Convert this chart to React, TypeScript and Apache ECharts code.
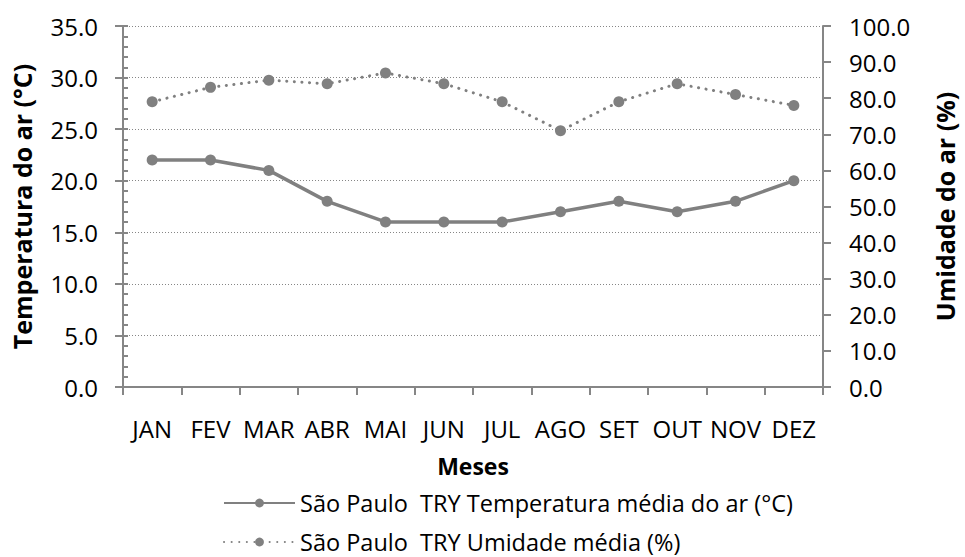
import React, { useEffect, useRef } from "react";
import * as echarts from "echarts";

const months = ["JAN", "FEV", "MAR", "ABR", "MAI", "JUN", "JUL", "AGO", "SET", "OUT", "NOV", "DEZ"];
const temperatura = [22, 22, 21, 18, 16, 16, 16, 17, 18, 17, 18, 20];
const umidade = [79, 83, 85, 84, 87, 84, 79, 71, 79, 84, 81, 78];
const tempName = "São Paulo  TRY Temperatura média do ar (°C)";
const umidName = "São Paulo  TRY Umidade média (%)";

const FONT = "Open Sans";
const GRAY = "#868686";
const SERIES = "#808080";

export default function App() {
  const ref = useRef<HTMLDivElement>(null);
  useEffect(() => {
    if (!ref.current) return;
    const chart = echarts.init(ref.current, null, { renderer: "svg" });
    const legendBase = {
      orient: "horizontal",
      left: 223,
      itemWidth: 71,
      itemHeight: 11,
      padding: 0,
      textStyle: { fontFamily: FONT, fontSize: 23.5, lineHeight: 24, color: "#000" },
    };
    chart.setOption({
      animation: false,
      backgroundColor: "#ffffff",
      textStyle: { fontFamily: FONT },
      grid: { left: 123, right: 136, top: 26, bottom: 170, containLabel: false },
      legend: [
        { ...legendBase, top: 491, data: [tempName] },
        { ...legendBase, top: 530, data: [umidName] },
      ],
      xAxis: {
        type: "category",
        data: months,
        boundaryGap: true,
        name: "Meses",
        nameLocation: "middle",
        nameGap: 67,
        nameTextStyle: { fontFamily: FONT, fontSize: 23, fontWeight: "bold", color: "#000" },
        axisLine: { show: true, lineStyle: { color: GRAY, width: 2 } },
        axisTick: { show: true, length: 8, lineStyle: { color: GRAY, width: 2 } },
        axisLabel: { fontFamily: FONT, fontSize: 24, color: "#000", margin: 29, interval: 0 },
        splitLine: { show: false },
      },
      yAxis: [
        {
          type: "value",
          min: 0,
          max: 35,
          interval: 5,
          position: "left",
          name: "Temperatura do ar (°C)",
          nameLocation: "middle",
          nameRotate: 90,
          nameGap: 89,
          nameTextStyle: { fontFamily: FONT, fontSize: 25, fontWeight: "bold", color: "#000" },
          axisLine: { show: true, lineStyle: { color: GRAY, width: 2 } },
          axisTick: { show: true, length: 8, lineStyle: { color: GRAY, width: 2 } },
          axisLabel: { fontFamily: FONT, fontSize: 24, color: "#000", margin: 25, formatter: (v: number) => v.toFixed(1) },
          splitLine: { show: true, lineStyle: { color: GRAY, width: 1, type: [1, 2] } },
        },
        {
          type: "value",
          min: 0,
          max: 100,
          interval: 10,
          position: "right",
          name: "Umidade do ar (%)",
          nameLocation: "middle",
          nameRotate: 90,
          nameGap: 109,
          nameTextStyle: { fontFamily: FONT, fontSize: 25, fontWeight: "bold", color: "#000" },
          axisLine: { show: true, lineStyle: { color: GRAY, width: 2 } },
          axisTick: { show: true, length: 8, lineStyle: { color: GRAY, width: 2 } },
          axisLabel: { fontFamily: FONT, fontSize: 24, color: "#000", margin: 26, formatter: (v: number) => v.toFixed(1) },
          splitLine: { show: false },
        },
        {
          type: "value",
          min: 0,
          max: 35,
          interval: 1,
          position: "left",
          axisLine: { show: false },
          axisTick: { show: true, inside: true, length: 5, lineStyle: { color: GRAY, width: 2 } },
          axisLabel: { show: false },
          splitLine: { show: false },
        },
      ],
      series: [
        {
          name: tempName,
          type: "line",
          yAxisIndex: 0,
          data: temperatura,
          color: SERIES,
          symbol: "circle",
          symbolSize: 11,
          lineStyle: { color: SERIES, width: 3.5 },
          itemStyle: { color: SERIES },
        },
        {
          name: umidName,
          type: "line",
          yAxisIndex: 1,
          data: umidade,
          color: SERIES,
          symbol: "circle",
          symbolSize: 11,
          lineStyle: { color: SERIES, width: 3, type: [0.1, 7.5], cap: "round" },
          itemStyle: { color: SERIES },
        },
      ],
    });
    return () => chart.dispose();
  }, []);
  return <div ref={ref} style={{ position: "fixed", left: 0, top: 0, width: 965, height: 557 }} />;
}
